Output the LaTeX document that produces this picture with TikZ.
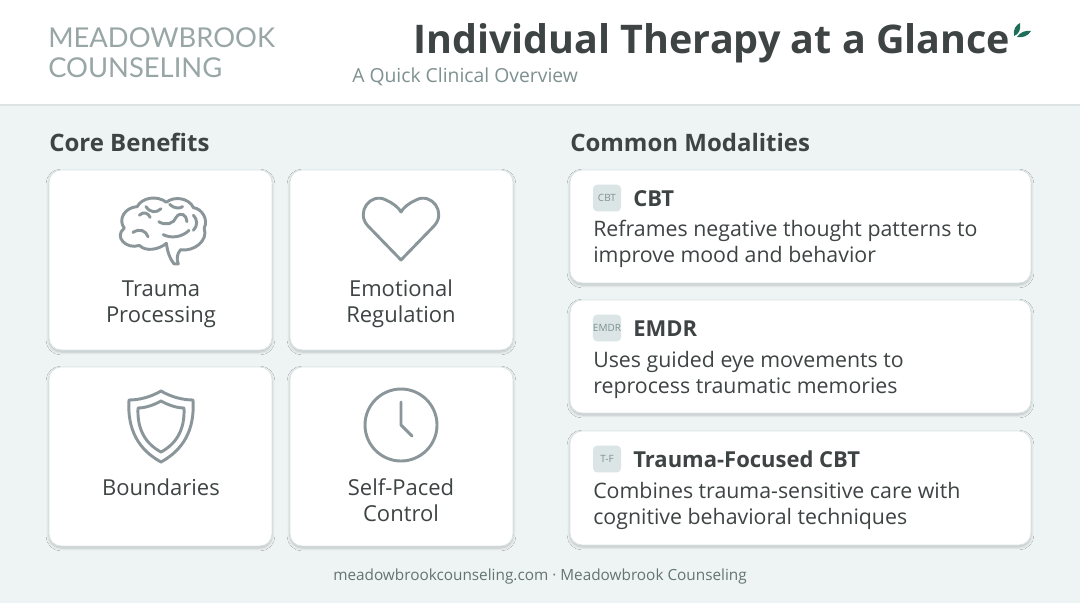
\documentclass[tikz,border=0pt]{standalone}
\usepackage{fontspec}
\setmainfont{Open Sans}
\newfontfamily\logofont{Lato}
\usetikzlibrary{shadows.blur}
\definecolor{bg}{HTML}{EEF4F4}
\definecolor{ink}{HTML}{3E4344}
\definecolor{sub}{HTML}{7E9090}
\definecolor{icon}{HTML}{8A9699}
\definecolor{bline}{HTML}{DCE3E3}
\definecolor{badge}{HTML}{DCE5E5}
\definecolor{leaf}{HTML}{1F6E5A}
\begin{document}
\begin{tikzpicture}[x=0.75pt,y=-0.75pt,
  card/.style={draw=bline,line width=0.7pt,fill=white,rounded corners=9pt,blur shadow={shadow blur steps=6,shadow xshift=0pt,shadow yshift=-1.5pt,shadow opacity=22}},
  ic/.style={draw=icon,line width=2.2pt,line cap=round,line join=round},
  lbl/.style={font=\fontsize{16.5}{19.5}\selectfont,text=ink,align=center},
  head/.style={font=\bfseries\fontsize{18}{20}\selectfont,text=ink,anchor=base west},
  mh/.style={font=\bfseries\fontsize{16.5}{19}\selectfont,text=ink,anchor=base west},
  mt/.style={font=\fontsize{16}{19.5}\selectfont,text=ink,anchor=north west,align=left},
  bd/.style={fill=badge,rounded corners=3pt,minimum width=21pt,minimum height=20pt,inner sep=0pt,font=\fontsize{7.5}{8}\selectfont,text=sub}]
\useasboundingbox (0,0) rectangle (1080,603);
\fill[bg] (0,0) rectangle (1080,603);
\fill[white] (0,0) rectangle (1080,105);
\draw[bline,line width=1pt] (0,105) -- (1080,105);
% header
\node[anchor=base west,font=\logofont\fontsize{20.5}{22}\selectfont,text=sub!80,inner sep=0] (l1) at (48,47) {MEADOWBROOK};
\node[anchor=base west,font=\logofont\fontsize{20.5}{22}\selectfont,text=sub!80,inner sep=0] (l2) at (48,77) {COUNSELING};
\node[anchor=base west,font=\bfseries\fontsize{29.6}{32}\selectfont,text=ink,inner sep=0] (t) at (413,53) {Individual Therapy at a Glance};
\node[anchor=base west,font=\fontsize{14.5}{16}\selectfont,text=sub,inner sep=0] (st) at (352,82) {A Quick Clinical Overview};
\fill[leaf] (1014,36) .. controls (1013,29) and (1016,25) .. (1020,23) .. controls (1021,30) and (1019,34) .. (1014,36);
\fill[leaf] (1017,37) .. controls (1020,32) and (1026,30) .. (1031,31) .. controls (1028,36) and (1023,38) .. (1017,37);
% section heads
\node[head,inner sep=0] (h1) at (49,151) {Core Benefits};
\node[head,inner sep=0] (h2) at (570,151) {Common Modalities};
% left cards
\path[card] (49,170) rectangle (272,350);
\path[card] (290,170) rectangle (513,350);
\path[card] (49,367) rectangle (272,546);
\path[card] (290,367) rectangle (513,546);
\node[lbl] (c1) at (161,304) {Trauma\\Processing};
\node[lbl] (c2) at (401,304) {Emotional\\Regulation};
\node[lbl] (c3) at (161,487) {Boundaries};
\node[lbl] (c4) at (401,500) {Self-Paced\\Control};
% brain
\begin{scope}[shift={(161,226)},scale=1.08]
\draw[ic] (5,16) .. controls (6,24) and (8,30) .. (12,35) -- (16,35) .. controls (14,30) and (15,26) .. (18,22)
  .. controls (30,24) and (44,14) .. (40,2) .. controls (44,-6) and (38,-16) .. (30,-17)
  .. controls (26,-26) and (12,-28) .. (5,-22) .. controls (-4,-29) and (-18,-26) .. (-22,-18)
  .. controls (-34,-17) and (-40,-6) .. (-34,2) .. controls (-44,10) and (-32,22) .. (-20,18)
  .. controls (-14,24) and (-2,22) .. (5,16);
\draw[ic] (-20,-10) .. controls (-16,-14) and (-12,-12) .. (-10,-8);
\draw[ic] (-26,6) .. controls (-20,2) and (-14,4) .. (-12,10);
\draw[ic] (-14,-18) .. controls (-10,-12) and (-4,-12) .. (0,-16);
\draw[ic] (-2,-4) .. controls (4,0) and (12,-2) .. (14,-8) .. controls (18,-14) and (24,-10) .. (24,-4);
\draw[ic] (2,8) .. controls (10,12) and (20,10) .. (26,4);
\draw[ic] (30,-10) .. controls (34,-6) and (34,0) .. (30,4);
\draw[ic] (8,-20) .. controls (12,-16) and (18,-16) .. (20,-18);
\end{scope}
% heart
\begin{scope}[shift={(401,228)}]
\draw[ic] (0,32) -- (-33,-2) .. controls (-46,-16) and (-30,-36) .. (-15,-28) .. controls (-8,-25) and (-2,-20) .. (0,-16)
  .. controls (2,-20) and (8,-25) .. (15,-28) .. controls (30,-36) and (46,-16) .. (33,-2) -- cycle;
\end{scope}
% shield
\begin{scope}[shift={(161,424)}]
\draw[ic] (0,-33) .. controls (-10,-27) and (-22,-24) .. (-32,-24) .. controls (-34,6) and (-22,26) .. (0,38)
  .. controls (22,26) and (34,6) .. (32,-24) .. controls (22,-24) and (10,-27) .. (0,-33) -- cycle;
\draw[ic] (0,-23) .. controls (-7,-19) and (-16,-16) .. (-23,-16) .. controls (-24,6) and (-15,20) .. (0,28)
  .. controls (15,20) and (24,6) .. (23,-16) .. controls (16,-16) and (7,-19) .. (0,-23) -- cycle;
\end{scope}
% clock
\draw[ic] (401,425) circle (36);
\draw[ic] (401,402) -- (401,425) -- (412,436);
% right cards
\path[card] (570,170) rectangle (1031,283);
\path[card] (570,300) rectangle (1031,413);
\path[card] (570,431) rectangle (1031,545);
\node[bd] (b1) at (607,198) {CBT};
\node[bd] (b2) at (607,328) {EMDR};
\node[bd] (b3) at (607,459) {T-F};
\node[mh,inner sep=0] (m1) at (633,206) {CBT};
\node[mh,inner sep=0] (m2) at (633,336) {EMDR};
\node[mh,inner sep=0] (m3) at (633,467) {Trauma-Focused CBT};
\node[mt,inner sep=0] (d1) at (593,220) {Reframes negative thought patterns to\\improve mood and behavior};
\node[mt,inner sep=0] (d2) at (593,351) {Uses guided eye movements to\\reprocess traumatic memories};
\node[mt,inner sep=0] (d3) at (593,482) {Combines trauma-sensitive care with\\cognitive behavioral techniques};
% footer
\node[font=\fontsize{11.5}{13}\selectfont,text=sub!80!black] (f) at (540,577) {meadowbrookcounseling.com · Meadowbrook Counseling};
\end{tikzpicture}
\end{document}
